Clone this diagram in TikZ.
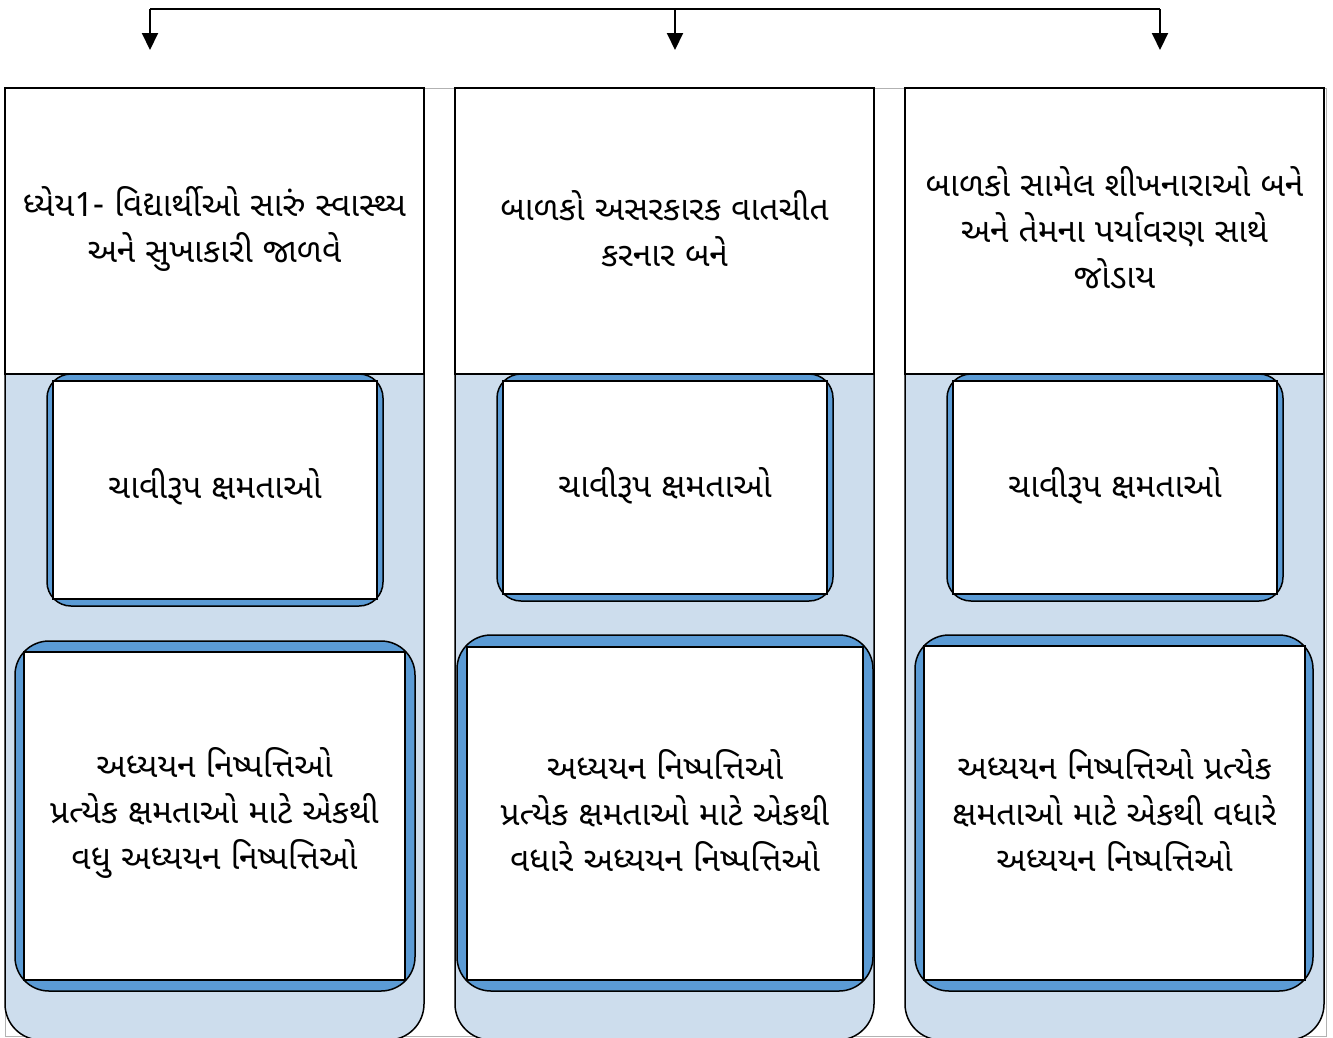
\documentclass[tikz,border=0pt]{standalone}
\usepackage{fontspec}
\newfontfamily\guj[Script=Gujarati]{Noto Sans Gujarati UI}
\usetikzlibrary{arrows.meta}
\definecolor{panelfill}{RGB}{205,221,237}
\definecolor{boxblue}{RGB}{91,155,213}
\begin{document}
\begin{tikzpicture}[x=1pt,y=-1pt,
  gtext/.style={font=\guj\fontsize{33.5}{46}\selectfont, align=center},
  topbox/.style={draw=black, line width=2pt, fill=white, minimum width=419pt, minimum height=286pt, inner sep=0pt},
  panel/.style={draw=black, line width=1.5pt, fill=panelfill, rounded corners=36pt},
  bluebox/.style={draw=black, line width=1.5pt, fill=boxblue, inner sep=0pt},
  whitebox/.style={draw=black, line width=1.5pt, fill=white, inner sep=0pt},
  label/.style={gtext, inner sep=0pt},
  conn/.style={line width=2pt},
  arr/.style={line width=2pt, -{Triangle[width=16pt,length=17pt]}}
]
\useasboundingbox (0,0) rectangle (1333,1037);
\fill[white] (0,0) rectangle (1333,1037);
\draw[gray!60, line width=1pt] (5,88) rectangle (1326,1036);

% top connectors
\coordinate (t1) at (150,9);
\coordinate (t2) at (675,9);
\coordinate (t3) at (1160,9);
\coordinate (a1) at (150,50);
\coordinate (a2) at (675,50);
\coordinate (a3) at (1160,50);
\draw[conn] (t1) -- (t3);
\draw[arr] (t1) -- (a1);
\draw[arr] (t2) -- (a2);
\draw[arr] (t3) -- (a3);

% panels
\draw[panel] (5,374) -- (5,1040) -- (424,1040) -- (424,374);
\draw[panel] (455,374) -- (455,1040) -- (874,1040) -- (874,374);
\draw[panel] (905,374) -- (905,1040) -- (1324,1040) -- (1324,374);

% top boxes
\node[topbox] (c1top) at (214.5,231) {};
\node[topbox] (c2top) at (664.5,231) {};
\node[topbox] (c3top) at (1114.5,231) {};
\node[label] (c1title) at (214.5,229) {ધ્યેય1- વિદ્યાર્થીઓ સારું સ્વાસ્થ્ય\\અને સુખાકારી જાળવે};
\node[label] (c2title) at (664.5,229) {બાળકો અસરકારક વાતચીત\\કરનાર બને};
\node[label] (c3title) at (1114.5,228) {બાળકો સામેલ શીખનારાઓ બને\\અને તેમના પર્યાવરણ સાથે\\જોડાય};

% key competency boxes
\node[bluebox, rounded corners=24pt, minimum width=336pt, minimum height=232pt] (c1k) at (215,490) {};
\node[whitebox, minimum width=324pt, minimum height=218pt] (c1kin) at (215,490) {};
\node[label] (c1ktext) at (215,487) {ચાવીરૂપ ક્ષમતાઓ};
\node[bluebox, rounded corners=24pt, minimum width=336pt, minimum height=227pt] (c2k) at (665,487.5) {};
\node[whitebox, minimum width=324pt, minimum height=213pt] (c2kin) at (665,487.5) {};
\node[label] (c2ktext) at (665,486) {ચાવીરૂપ ક્ષમતાઓ};
\node[bluebox, rounded corners=24pt, minimum width=336pt, minimum height=227pt] (c3k) at (1115,487.5) {};
\node[whitebox, minimum width=324pt, minimum height=213pt] (c3kin) at (1115,487.5) {};
\node[label] (c3ktext) at (1115,486) {ચાવીરૂપ ક્ષમતાઓ};

% learning outcome boxes
\node[bluebox, rounded corners=34pt, minimum width=400pt, minimum height=350pt] (c1o) at (215,816) {};
\node[whitebox, minimum width=381pt, minimum height=328pt] (c1oin) at (214.5,816) {};
\node[label] (c1otext) at (214.5,813) {અધ્યયન નિષ્પત્તિઓ\\પ્રત્યેક ક્ષમતાઓ માટે એકથી\\વધુ અધ્યયન નિષ્પત્તિઓ};
\node[bluebox, rounded corners=34pt, minimum width=416pt, minimum height=356pt] (c2o) at (665,813) {};
\node[whitebox, minimum width=396pt, minimum height=333pt] (c2oin) at (665,813.5) {};
\node[label] (c2otext) at (665,810.5) {અધ્યયન નિષ્પત્તિઓ\\પ્રત્યેક ક્ષમતાઓ માટે એકથી\\વધારે અધ્યયન નિષ્પત્તિઓ};
\node[bluebox, rounded corners=34pt, minimum width=398pt, minimum height=356pt] (c3o) at (1114,813) {};
\node[whitebox, minimum width=381pt, minimum height=334pt] (c3oin) at (1114.5,813) {};
\node[label] (c3otext) at (1114.5,810) {અધ્યયન નિષ્પત્તિઓ પ્રત્યેક\\ક્ષમતાઓ માટે એકથી વધારે\\અધ્યયન નિષ્પત્તિઓ};
\end{tikzpicture}
\end{document}
